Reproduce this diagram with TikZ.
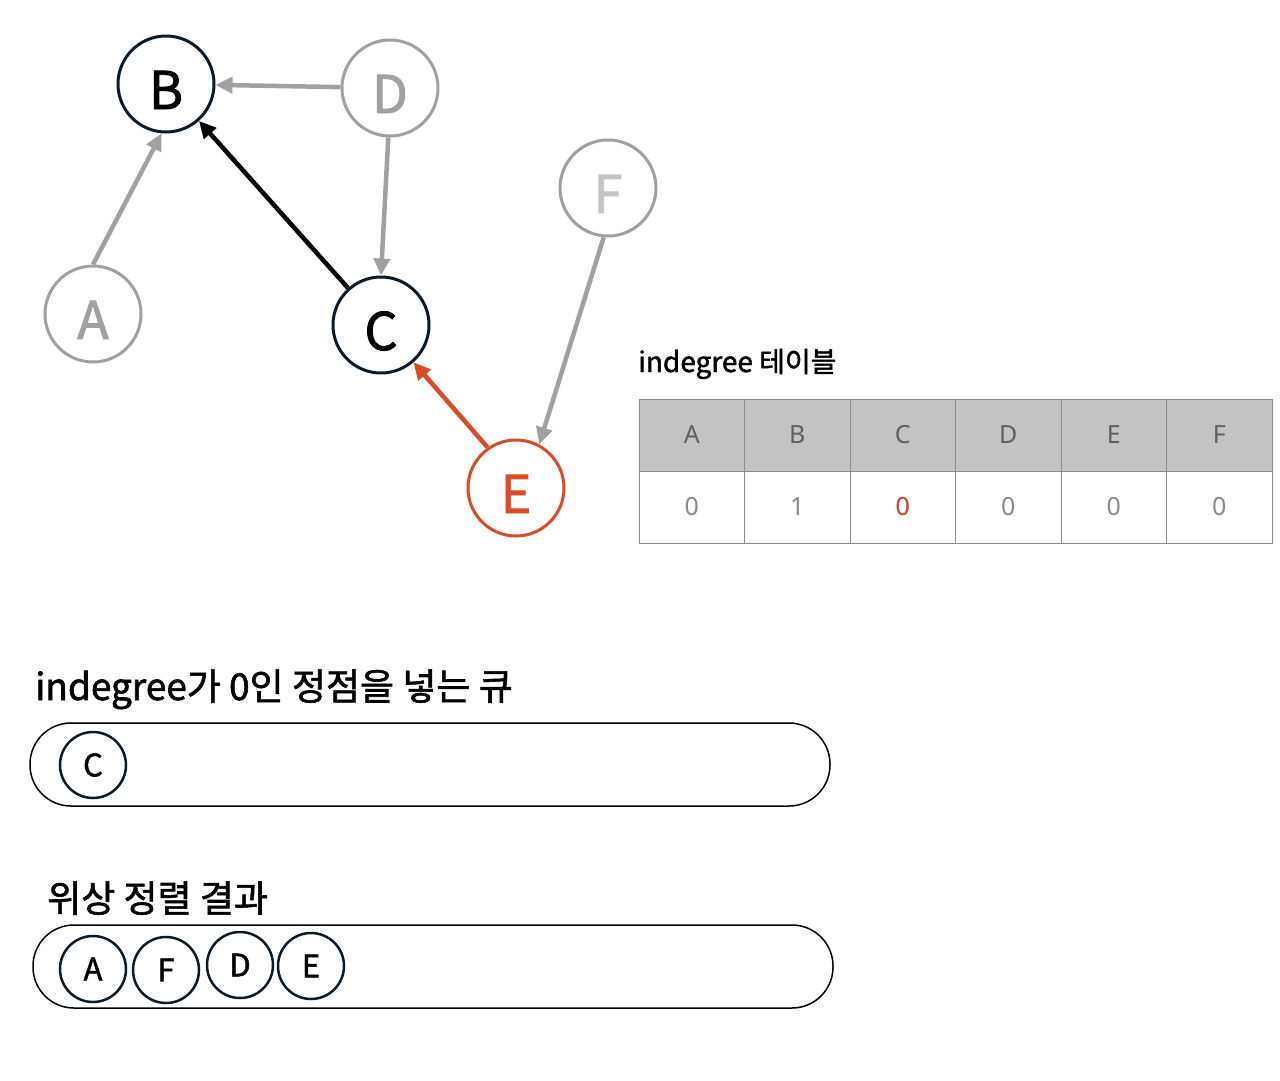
\documentclass[tikz,border=0pt]{standalone}
\usepackage{fontspec}
\setmainfont{Noto Sans CJK KR}
\newfontfamily\heavyfont{Noto Sans CJK KR}[FakeBold=1.6]
\newfontfamily\tablefont{Noto Sans}
\usepackage{tikz}
\usetikzlibrary{arrows.meta, positioning, shapes.geometric}

\definecolor{inkdark}{HTML}{0B1B2A}
\definecolor{edgegray}{HTML}{A0A0A0}
\definecolor{lightgray}{HTML}{C4C4C4}
\definecolor{hotred}{HTML}{DD4A26}
\definecolor{headgray}{HTML}{C3C3C3}
\definecolor{gridgray}{HTML}{8A8A8A}
\definecolor{cellgray}{HTML}{5F5F5F}

\begin{document}
\begin{tikzpicture}[x=1pt, y=-1pt,
        vertex/.style={circle, draw=inkdark, line width=3pt, minimum size=96pt, inner sep=0pt, text height=50pt, text depth=0pt, font=\heavyfont\fontsize{52}{52}\selectfont},
        faded/.style={vertex, draw=edgegray, text=edgegray},
        active/.style={vertex, draw=hotred, text=hotred},
        token/.style={circle, draw=inkdark, line width=2.5pt, minimum size=66pt, inner sep=0pt, font=\heavyfont\fontsize{31}{31}\selectfont},
        capsule/.style={rounded corners=41pt, draw=black, line width=1.5pt},
        edge/.style={-{Triangle[length=17pt, width=16pt]}, line width=4.5pt, draw=edgegray},
        cell/.style={draw=gridgray, line width=1pt, minimum width=105.5pt, minimum height=72pt, inner sep=0pt, font=\tablefont\fontsize{25}{25}\selectfont},
        title/.style={anchor=base west, inner sep=0pt}
    ]
    \useasboundingbox (0,0) rectangle (1280,1080);

    % 그래프 정점
    \node[vertex] (b) at (166,84) {B};
    \node[faded] (d) at (390,88) {D};
    \node[faded, text=lightgray] (f) at (608,188) {F};
    \node[faded] (a) at (93,314) {A};
    \node[vertex] (c) at (381,325) {C};
    \node[active] (e) at (516,488) {E};

    % 간선
    \draw[edge] (d) -- (b);
    \draw[edge] (a.north) -- (b.265);
    \draw[edge] (d.268) -- (c.north);
    \draw[edge, draw=black] (c) -- (b);
    \draw[edge] (f.265) -- (e.62);
    \draw[edge, draw=hotred] (e.125) -- (c);

    % indegree 테이블
    \node[title, font=\heavyfont\fontsize{28}{28}\selectfont] (tabtitle) at (638,372) {indegree 테이블};
    \foreach \name/\val [count=\i] in {A/0, B/1, C/0, D/0, E/0, F/0} {
        \node[cell, fill=headgray, text=cellgray] (head\i) at (639+105.5*\i-52.75,435) {\name};
        \node[cell, text=gridgray] (val\i) at (639+105.5*\i-52.75,507) {\val};
    }
    \node[text=hotred, font=\tablefont\fontsize{25}{25}\selectfont] at (val3) {0};

    % 큐
    \node[title, font=\heavyfont\fontsize{37}{37}\selectfont] (qtitle) at (35,700) {indegree가 0인 정점을 넣는 큐};
    \draw[capsule] (30,723) rectangle (830,806);
    \node[token] (qc) at (93,765) {C};

    % 위상 정렬 결과
    \node[title, font=\heavyfont\fontsize{37}{37}\selectfont] (rtitle) at (47,912) {위상 정렬 결과};
    \draw[capsule] (33,925) rectangle (833,1008);
    \node[token] (ra) at (93,969) {A};
    \node[token] (rf) at (166,970) {F};
    \node[token] (rd) at (240,965) {D};
    \node[token] (re) at (311,966) {E};

\end{tikzpicture}
\end{document}
